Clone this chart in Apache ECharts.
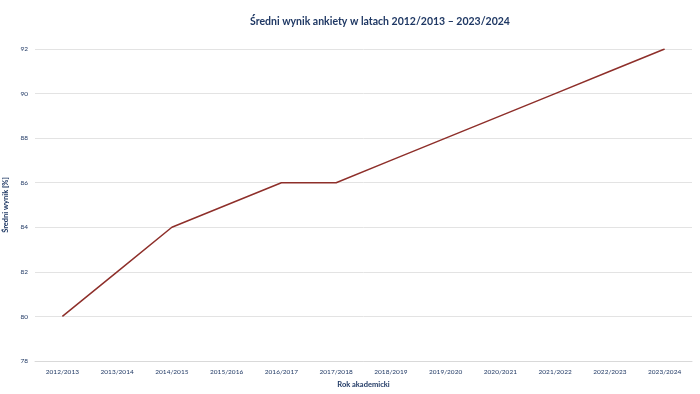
<!DOCTYPE html>
<html><head><meta charset="utf-8">
<script src="https://cdn.jsdelivr.net/npm/echarts@6/dist/echarts.min.js"></script>
<style>html,body{margin:0;padding:0;background:#fff}#c{width:700px;height:394px}</style>
</head><body><div id="c"></div>
<script>
const categories = ['2012/2013','2013/2014','2014/2015','2015/2016','2016/2017','2017/2018','2018/2019','2019/2020','2020/2021','2021/2022','2022/2023','2023/2024'];
const values = [80, 82, 84, 85, 86, 86, 87, 88, 89, 90, 91, 92];
const titleText = 'Średni wynik ankiety w latach 2012/2013 – 2023/2024';
const xName = 'Rok akademicki';
const yName = 'Średni wynik [%]';
const textColor = '#1F3864';
const chart = echarts.init(document.getElementById('c'));
chart.setOption({
  animation: false,
  title: {text: titleText, left: 245, top: 11, textStyle: {fontFamily: 'Lato', fontSize: 10.5, fontWeight: 'bold', color: textColor}},
  grid: {left: 35, right: 8, top: 49, bottom: 33, outerBoundsMode: 'none', containLabel: false},
  xAxis: {
    type: 'category', data: categories, boundaryGap: true,
    name: xName, nameLocation: 'middle', nameGap: 20,
    nameTextStyle: {fontFamily: 'Lato', fontSize: 7.5, fontWeight: 'bold', color: textColor},
    axisLine: {lineStyle: {color: '#d9d9d9'}}, axisTick: {show: false},
    axisLabel: {fontFamily: 'Lato', fontSize: 6.5, color: textColor, margin: 7}
  },
  yAxis: {
    type: 'value', min: 78, max: 92, interval: 2,
    name: yName, nameLocation: 'middle', nameGap: 15,
    nameTextStyle: {fontFamily: 'Lato', fontSize: 7.5, fontWeight: 'bold', color: textColor},
    axisLine: {show: false}, axisTick: {show: false},
    axisLabel: {fontFamily: 'Lato', fontSize: 6.5, color: textColor, margin: 7},
    splitLine: {lineStyle: {color: '#e3e3e3'}}
  },
  series: [{type: 'line', data: values, symbol: 'none', lineStyle: {color: '#8E2F2A', width: 1.5}}]
});
</script></body></html>
